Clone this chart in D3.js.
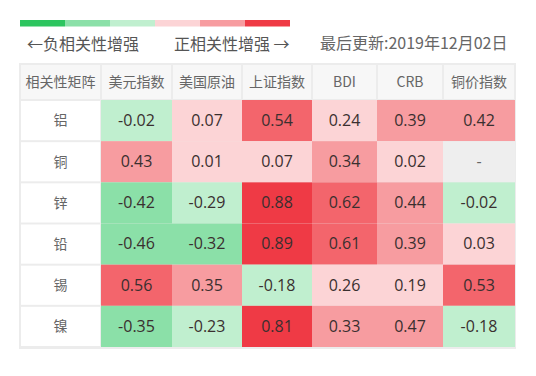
<!DOCTYPE html>
<html><head><meta charset="utf-8">
<script src="https://cdn.jsdelivr.net/npm/d3@7"></script>
<style>
html,body{margin:0;padding:0;background:#fff;}
text{font-family:"Noto Sans CJK SC","Microsoft YaHei",sans-serif;}
text.num{font-family:"Open Sans","Noto Sans CJK SC",sans-serif;}
</style></head>
<body>
<svg id="c" width="536" height="376"></svg>
<script>
const cornerLabel = "相关性矩阵";
const columns = ["美元指数","美国原油","上证指数","BDI","CRB","铜价指数"];
const rows = ["铝","铜","锌","铅","锡","镍"];
const values = [
  [-0.02, 0.07, 0.54, 0.24, 0.39, 0.42],
  [0.43, 0.01, 0.07, 0.34, 0.02, null],
  [-0.42, -0.29, 0.88, 0.62, 0.44, -0.02],
  [-0.46, -0.32, 0.89, 0.61, 0.39, 0.03],
  [0.56, 0.35, -0.18, 0.26, 0.19, 0.53],
  [-0.35, -0.23, 0.81, 0.33, 0.47, -0.18]
];
const legendColors = ["#2dc55f","#8be0a8","#c0efcf","#fcd4d6","#f79ca0","#ef3a45"];
const thresholds = [-0.7,-0.3,0,0.3,0.5,0.7];
const scaleColors = ["#2dc55f","#8be0a8","#c0efcf","#fcd4d6","#f79ca0","#f3656c","#ef3a45"];
const updateText = "最后更新:2019年12月02日";

const svg = d3.select("#c");
const color = d3.scaleThreshold().domain(thresholds).range(scaleColors);
const fmt = v => d3.format(".2f")(v).replace("\u2212","-");

// legend bar
const lx = d3.scaleBand().domain(d3.range(legendColors.length)).range([20,290]);
svg.selectAll("rect.leg").data(legendColors).join("rect")
  .attr("x",(d,i)=>lx(i)).attr("y",20).attr("width",lx.bandwidth()).attr("height",6.5)
  .attr("fill",d=>d);
svg.append("text").attr("x",27).attr("y",50).attr("font-size",16).attr("fill","#555").text("←负相关性增强");
svg.append("text").attr("x",174).attr("y",50).attr("font-size",16).attr("fill","#555").text("正相关性增强 →");
svg.append("text").attr("x",320).attr("y",49).attr("font-size",16).attr("fill","#666").text(updateText);

// table layout
const colWidths = [81,71,70,70,65,66,72];
const colEdges = [20];
colWidths.forEach(w=>colEdges.push(colEdges[colEdges.length-1]+w));
const headerTop = 64, headerH = 36;
const y = d3.scaleBand().domain(rows).range([headerTop+headerH, 347]);
const rowH = y.bandwidth();
const gridColor = "#ececec";

svg.append("rect").attr("x",colEdges[0]-1).attr("y",headerTop-1)
  .attr("width",colEdges[7]-colEdges[0]+2).attr("height",348-headerTop+2).attr("fill",gridColor);

// header
const headers = [cornerLabel].concat(columns);
const hg = svg.append("g");
headers.forEach((h,i)=>{
  hg.append("rect").attr("x",colEdges[i]+1).attr("y",headerTop+1)
    .attr("width",colWidths[i]-2).attr("height",headerH-2).attr("fill","#f7f7f7");
  hg.append("text").attr("x",(colEdges[i]+colEdges[i+1])/2).attr("y",headerTop+headerH/2+1)
    .attr("text-anchor","middle").attr("dominant-baseline","middle")
    .attr("font-size",14).attr("fill","#666").text(h);
});

// rows
rows.forEach((r,ri)=>{
  const yy = y(r);
  svg.append("rect").attr("x",colEdges[0]+1).attr("y",yy+1)
    .attr("width",colWidths[0]-2).attr("height",rowH-2).attr("fill","#fff");
  svg.append("text").attr("x",(colEdges[0]+colEdges[1])/2).attr("y",yy+rowH/2+1)
    .attr("text-anchor","middle").attr("dominant-baseline","middle")
    .attr("font-size",14).attr("fill","#666").text(r);
  values[ri].forEach((v,ci)=>{
    const x0 = colEdges[ci+1], w = colWidths[ci+1];
    svg.append("rect").attr("x",x0).attr("y",yy).attr("width",w).attr("height",rowH)
      .attr("fill", v===null ? "#eeeeee" : color(v));
    svg.append("text").attr("class","num").attr("x",x0+w/2).attr("y",yy+rowH/2+1)
      .attr("text-anchor","middle").attr("dominant-baseline","middle")
      .attr("font-size",16).attr("fill", v===null ? "#666" : "#3a2f2f")
      .text(v===null ? "-" : fmt(v));
  });
});
</script>
</body></html>
